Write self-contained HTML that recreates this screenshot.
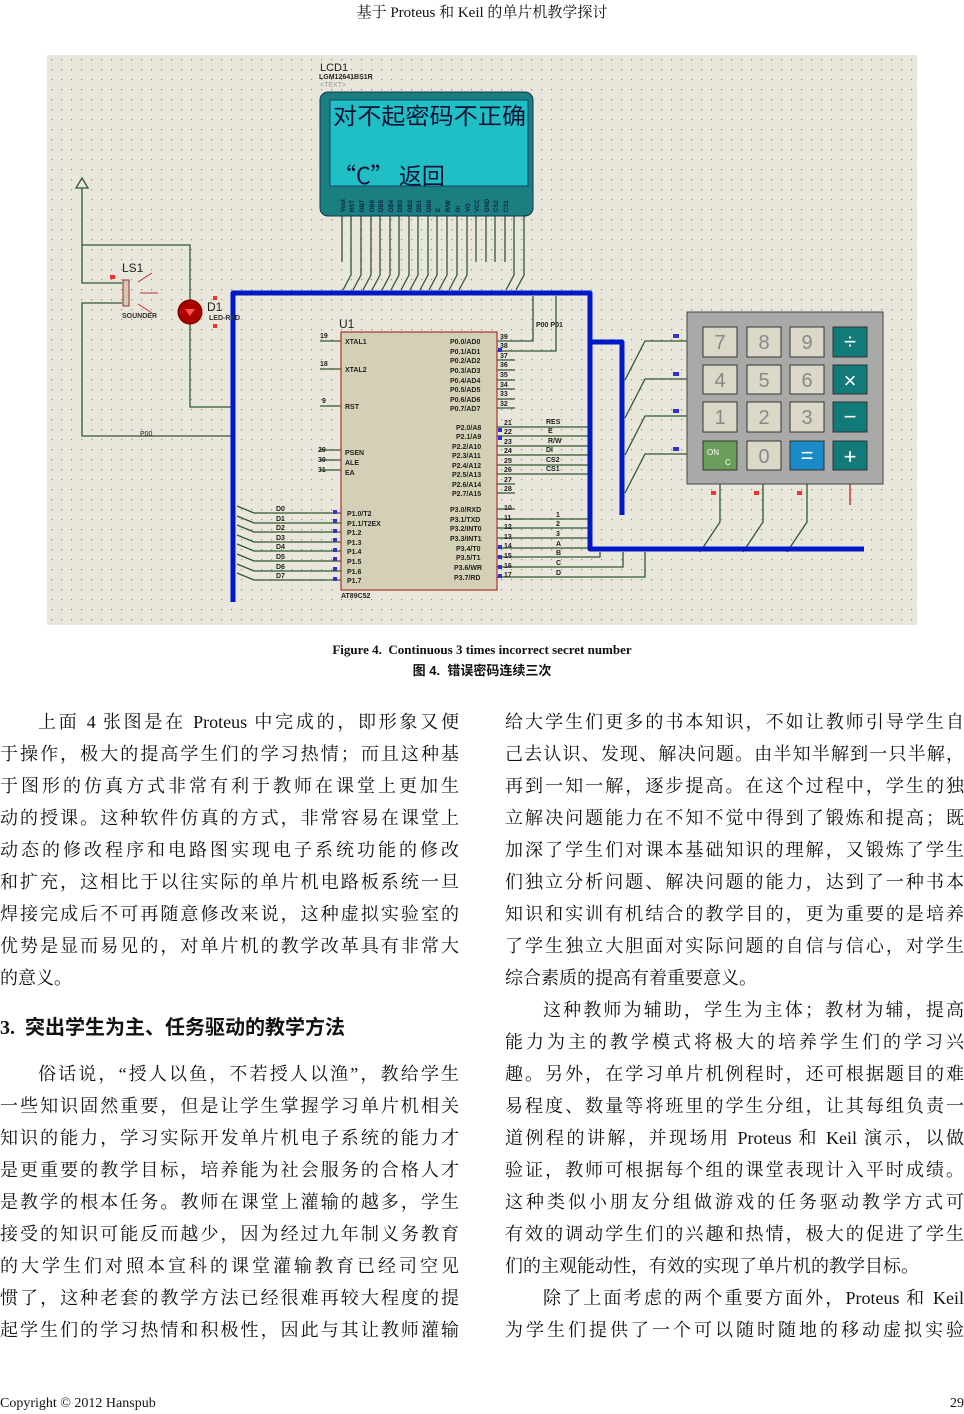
<!DOCTYPE html>
<html><head><meta charset="utf-8">
<style>
body{margin:0;width:964px;height:1414px;position:relative;background:#fff;overflow:hidden;font-family:"Liberation Serif","Noto Serif CJK SC",serif;color:#111}
.l{position:absolute;font-size:18px;height:24px;line-height:24px;white-space:nowrap;text-align:justify;text-align-last:justify}
.e{text-align-last:left}
.L{left:0;width:459px}.R{left:505px;width:459px}
.Li{left:38px;width:421px}.Ri{left:543px;width:421px}
svg text{font-family:"Liberation Sans",sans-serif}
</style></head><body>
<div style="position:absolute;top:1px;left:0;width:964px;text-align:center;font-size:15px">基于 Proteus 和 Keil 的单片机教学探讨</div>

<svg style="position:absolute;left:0;top:0" width="964" height="640">
<defs><pattern id="g" x="47" y="55" width="10" height="10" patternUnits="userSpaceOnUse"><rect x="4" y="4" width="1.2" height="1.2" fill="#8a8a80"/></pattern></defs>
<rect x="47" y="55" width="870" height="570" fill="#e9e6db"/>
<rect x="47" y="55" width="870" height="570" fill="url(#g)"/>
<g stroke="#2f5a2f" stroke-width="1.3" fill="none">
<path d="M82 188V245H190V302"/><path d="M82 245V283H122"/><path d="M122 303H82V436H233"/><path d="M190 322V407H233"/>
<path d="M342 216V262M351 216V275L343 290M361 216V275L353 290M371 216V275L363 290M380 216V275L372 290M390 216V275L382 290M399 216V275L391 290M409 216V275L401 290M418 216V275L410 290M428 216V275L420 290M437 216V275L429 290M447 216V275L439 290M457 216V275L449 290M467 216V275L459 290M476 216V262M486 216V262M495 216V262M505 216V262M514 216V275L506 290M524 216V275L516 290"/>
<path d="M254 513H341M254 523H341M254 532H341M254 542H341M254 551H341M254 561H341M254 571H341M254 580H341"/>
<path d="M237 506L254 513M237 516L254 523M237 525L254 532M237 535L254 542M237 544L254 551M237 554L254 561M237 564L254 571M237 573L254 580"/>
<path d="M320 341H341M320 369H341M320 406H341M320 450H341M320 460H341M320 470H341"/>
<path d="M497 341H533V296M497 351H556V296"/>
<path d="M497 360H515M497 370H515M497 380H515M497 389H515M497 399H515M497 408H515"/>
<path d="M497 427H590M497 436H590M497 446H590M497 455H590M497 465H590M497 474H590M497 484H515M497 493H515"/>
<path d="M497 509H515M497 519H590M497 528H590M497 538H590M497 548H590M497 557H600V552M497 567H623V552M497 577H645V552"/>
<path d="M687 341H645L625 380M687 379H645L625 418M687 416H645L625 455M687 454H645L625 493"/>
<path d="M720 484V522L700 552M763 484V522L743 552M807 484V522L787 552"/>
</g>
<path d="M850 484V505" stroke="#b22" stroke-width="1.3"/>
<path d="M76 188L82 178L88 188Z" fill="none" stroke="#2f5a2f" stroke-width="1.3"/>
<path d="M233 602V293H590V549H864M590 342H622V515" fill="none" stroke="#0018c8" stroke-width="5" stroke-linejoin="round"/>
<text x="320" y="71" font-size="11" fill="#222">LCD1</text>
<text x="319" y="79" font-size="7" fill="#222" font-weight="bold">LGM12641BS1R</text>
<text x="320" y="87" font-size="7" fill="#999">&lt;TEXT&gt;</text>
<rect x="320" y="92" width="213" height="124" rx="8" fill="#1b7f80" stroke="#135"/>
<rect x="330" y="100" width="198" height="86" fill="#20bfc6" stroke="#146"/>
<text x="333" y="124" font-size="23" textLength="193" lengthAdjust="spacingAndGlyphs" fill="#113" style="font-family:'Noto Sans CJK SC',sans-serif">对不起密码不正确</text>
<text x="333" y="184" font-size="23" fill="#113" style="font-family:'Noto Sans CJK SC',sans-serif">“C” 返回</text>
<g font-size="6" fill="#124" font-weight="bold">
<text transform="translate(345,212) rotate(-90)">Vout</text><text transform="translate(354,212) rotate(-90)">RST</text><text transform="translate(364,212) rotate(-90)">DB7</text><text transform="translate(374,212) rotate(-90)">DB6</text><text transform="translate(383,212) rotate(-90)">DB5</text><text transform="translate(393,212) rotate(-90)">DB4</text><text transform="translate(402,212) rotate(-90)">DB3</text><text transform="translate(412,212) rotate(-90)">DB2</text><text transform="translate(421,212) rotate(-90)">DB1</text><text transform="translate(431,212) rotate(-90)">DB0</text><text transform="translate(440,212) rotate(-90)">E</text><text transform="translate(450,212) rotate(-90)">R/W</text><text transform="translate(460,212) rotate(-90)">DI</text><text transform="translate(470,212) rotate(-90)">VO</text><text transform="translate(479,212) rotate(-90)">VCC</text><text transform="translate(489,212) rotate(-90)">GND</text><text transform="translate(498,212) rotate(-90)">CS2</text><text transform="translate(508,212) rotate(-90)">CS1</text>
</g>
<text x="122" y="272" font-size="12" fill="#222">LS1</text>
<rect x="123" y="280" width="6" height="26" fill="#d8c8b0" stroke="#833"/>
<path d="M138 282L152 273M140 293H158M138 304L152 313" stroke="#b33" stroke-width="1"/>
<text x="122" y="318" font-size="7" fill="#333" font-weight="bold">SOUNDER</text>
<circle cx="190" cy="312" r="12" fill="#a00" stroke="#700"/>
<path d="M185 309H195L190 316Z" fill="#f55"/>
<text x="207" y="311" font-size="12" fill="#222">D1</text>
<text x="209" y="320" font-size="7" fill="#333" font-weight="bold">LED-RED</text>
<text x="140" y="436" font-size="7" fill="#222">P00</text>
<text x="339" y="328" font-size="12" fill="#222">U1</text>
<rect x="341" y="332" width="156" height="258" fill="#d3d0b6" stroke="#a33" stroke-width="1.2"/>
<g font-size="7" fill="#222" font-weight="bold">
<text x="345" y="344">XTAL1</text><text x="345" y="372">XTAL2</text><text x="345" y="409">RST</text>
<text x="345" y="455">PSEN</text><text x="345" y="465">ALE</text><text x="345" y="475">EA</text>
<text x="347" y="516">P1.0/T2</text><text x="347" y="526">P1.1/T2EX</text><text x="347" y="535">P1.2</text><text x="347" y="545">P1.3</text><text x="347" y="554">P1.4</text><text x="347" y="564">P1.5</text><text x="347" y="574">P1.6</text><text x="347" y="583">P1.7</text>
<text x="450" y="344">P0.0/AD0</text><text x="450" y="354">P0.1/AD1</text><text x="450" y="363">P0.2/AD2</text><text x="450" y="373">P0.3/AD3</text><text x="450" y="383">P0.4/AD4</text><text x="450" y="392">P0.5/AD5</text><text x="450" y="402">P0.6/AD6</text><text x="450" y="411">P0.7/AD7</text>
<text x="456" y="430">P2.0/A8</text><text x="456" y="439">P2.1/A9</text><text x="452" y="449">P2.2/A10</text><text x="452" y="458">P2.3/A11</text><text x="452" y="468">P2.4/A12</text><text x="452" y="477">P2.5/A13</text><text x="452" y="487">P2.6/A14</text><text x="452" y="496">P2.7/A15</text>
<text x="450" y="512">P3.0/RXD</text><text x="450" y="522">P3.1/TXD</text><text x="450" y="531">P3.2/INT0</text><text x="450" y="541">P3.3/INT1</text><text x="456" y="551">P3.4/T0</text><text x="456" y="560">P3.5/T1</text><text x="454" y="570">P3.6/WR</text><text x="454" y="580">P3.7/RD</text>
<text x="341" y="598">AT89C52</text>
<text x="276" y="511">D0</text><text x="276" y="521">D1</text><text x="276" y="530">D2</text><text x="276" y="540">D3</text><text x="276" y="549">D4</text><text x="276" y="559">D5</text><text x="276" y="569">D6</text><text x="276" y="578">D7</text>
<text x="546" y="424">RES</text><text x="548" y="433">E</text><text x="548" y="443">R/W</text><text x="546" y="452">DI</text><text x="546" y="462">CS2</text><text x="546" y="471">CS1</text>
<text x="556" y="517">1</text><text x="556" y="526">2</text><text x="556" y="536">3</text><text x="556" y="546">A</text><text x="556" y="555">B</text><text x="556" y="565">C</text><text x="556" y="575">D</text>
<text x="536" y="327">P00  P01</text>
<text x="320" y="338">19</text><text x="320" y="366">18</text><text x="322" y="403">9</text><text x="318" y="452">29</text><text x="318" y="462">30</text><text x="318" y="472">31</text>
<text x="500" y="339">39</text><text x="500" y="348">38</text><text x="500" y="358">37</text><text x="500" y="367">36</text><text x="500" y="377">35</text><text x="500" y="387">34</text><text x="500" y="396">33</text><text x="500" y="406">32</text>
<text x="504" y="425">21</text><text x="504" y="434">22</text><text x="504" y="444">23</text><text x="504" y="453">24</text><text x="504" y="463">25</text><text x="504" y="472">26</text><text x="504" y="482">27</text><text x="504" y="491">28</text>
<text x="504" y="510">10</text><text x="504" y="520">11</text><text x="504" y="529">12</text><text x="504" y="539">13</text><text x="504" y="548">14</text><text x="504" y="558">15</text><text x="504" y="568">16</text><text x="504" y="577">17</text>
<text x="693" y="344">A</text><text x="693" y="382">B</text><text x="693" y="419">C</text><text x="693" y="457">D</text>
</g>
<g fill="#33c"><rect x="498" y="348" width="4" height="4"/><rect x="498" y="428" width="4" height="4"/><rect x="498" y="436" width="4" height="4"/><rect x="498" y="545" width="4" height="4"/><rect x="498" y="555" width="4" height="4"/><rect x="498" y="565" width="4" height="4"/><rect x="498" y="574" width="4" height="4"/>
<rect x="673" y="334" width="6" height="4"/><rect x="673" y="372" width="6" height="4"/><rect x="673" y="409" width="6" height="4"/><rect x="673" y="447" width="6" height="4"/>
<rect x="333" y="510" width="4" height="4"/><rect x="333" y="519" width="4" height="4"/><rect x="333" y="529" width="4" height="4"/><rect x="333" y="538" width="4" height="4"/><rect x="333" y="548" width="4" height="4"/><rect x="333" y="557" width="4" height="4"/><rect x="333" y="567" width="4" height="4"/><rect x="333" y="577" width="4" height="4"/></g>
<g fill="#e33"><rect x="711" y="491" width="5" height="4"/><rect x="754" y="491" width="5" height="4"/><rect x="797" y="491" width="5" height="4"/><rect x="213" y="296" width="4" height="4"/><rect x="213" y="324" width="4" height="4"/><rect x="110" y="275" width="5" height="4"/></g>
<rect x="687" y="312" width="196" height="172" fill="#a9aaa8" stroke="#444"/>
<g stroke="#333" stroke-width="1">
<rect x="703" y="327" width="34" height="30" fill="#dcd8c8"/><rect x="747" y="327" width="34" height="30" fill="#dcd8c8"/><rect x="790" y="327" width="34" height="30" fill="#dcd8c8"/><rect x="833" y="327" width="34" height="30" fill="#137a7a"/>
<rect x="703" y="365" width="34" height="29" fill="#dcd8c8"/><rect x="747" y="365" width="34" height="29" fill="#dcd8c8"/><rect x="790" y="365" width="34" height="29" fill="#dcd8c8"/><rect x="833" y="365" width="34" height="29" fill="#137a7a"/>
<rect x="703" y="402" width="34" height="30" fill="#dcd8c8"/><rect x="747" y="402" width="34" height="30" fill="#dcd8c8"/><rect x="790" y="402" width="34" height="30" fill="#dcd8c8"/><rect x="833" y="402" width="34" height="30" fill="#137a7a"/>
<rect x="703" y="441" width="34" height="29" fill="#6a9e5a"/><rect x="747" y="441" width="34" height="29" fill="#dcd8c8"/><rect x="790" y="441" width="34" height="29" fill="#1a8ac8"/><rect x="833" y="441" width="34" height="29" fill="#137a7a"/>
</g>
<g font-size="20" fill="#888" text-anchor="middle">
<text x="720" y="349">7</text><text x="764" y="349">8</text><text x="807" y="349">9</text>
<text x="720" y="387">4</text><text x="764" y="387">5</text><text x="807" y="387">6</text>
<text x="720" y="424">1</text><text x="764" y="424">2</text><text x="807" y="424">3</text>
<text x="764" y="463">0</text></g>
<g fill="#fff" font-size="22" text-anchor="middle"><text x="850" y="349">÷</text><text x="850" y="388">×</text><text x="850" y="424">−</text><text x="850" y="464">+</text><text x="807" y="463">=</text></g>
<text x="707" y="455" font-size="8" fill="#fff">ON</text><text x="725" y="465" font-size="8" fill="#fff">C</text>
</svg>

<div style="position:absolute;top:642px;left:0;width:964px;text-align:center;font-size:13px;font-weight:bold">Figure 4.&nbsp; Continuous 3 times incorrect secret number</div>
<div style="position:absolute;top:660px;left:0;width:964px;text-align:center;font-size:13px;font-weight:bold;font-family:'Liberation Sans','Noto Sans CJK SC',sans-serif">图 4.&nbsp; 错误密码连续三次</div>

<div class="l Li" style="top:710px">上面 4 张图是在 Proteus 中完成的，即形象又便</div>
<div class="l L" style="top:742px">于操作，极大的提高学生们的学习热情；而且这种基</div>
<div class="l L" style="top:774px">于图形的仿真方式非常有利于教师在课堂上更加生</div>
<div class="l L" style="top:806px">动的授课。这种软件仿真的方式，非常容易在课堂上</div>
<div class="l L" style="top:838px">动态的修改程序和电路图实现电子系统功能的修改</div>
<div class="l L" style="top:870px">和扩充，这相比于以往实际的单片机电路板系统一旦</div>
<div class="l L" style="top:902px">焊接完成后不可再随意修改来说，这种虚拟实验室的</div>
<div class="l L" style="top:934px">优势是显而易见的，对单片机的教学改革具有非常大</div>
<div class="l L e" style="top:966px">的意义。</div>
<div style="position:absolute;top:1011px;left:0;font-size:20px;font-weight:bold;font-family:'Liberation Serif','Noto Sans CJK SC',sans-serif;white-space:nowrap">3.&nbsp; 突出学生为主、任务驱动的教学方法</div>
<div class="l Li" style="top:1062px">俗话说，“授人以鱼，不若授人以渔”，教给学生</div>
<div class="l L" style="top:1094px">一些知识固然重要，但是让学生掌握学习单片机相关</div>
<div class="l L" style="top:1126px">知识的能力，学习实际开发单片机电子系统的能力才</div>
<div class="l L" style="top:1158px">是更重要的教学目标，培养能为社会服务的合格人才</div>
<div class="l L" style="top:1190px">是教学的根本任务。教师在课堂上灌输的越多，学生</div>
<div class="l L" style="top:1222px">接受的知识可能反而越少，因为经过九年制义务教育</div>
<div class="l L" style="top:1254px">的大学生们对照本宣科的课堂灌输教育已经司空见</div>
<div class="l L" style="top:1286px">惯了，这种老套的教学方法已经很难再较大程度的提</div>
<div class="l L" style="top:1318px">起学生们的学习热情和积极性，因此与其让教师灌输</div>

<div class="l R" style="top:710px">给大学生们更多的书本知识，不如让教师引导学生自</div>
<div class="l R" style="top:742px">己去认识、发现、解决问题。由半知半解到一只半解，</div>
<div class="l R" style="top:774px">再到一知一解，逐步提高。在这个过程中，学生的独</div>
<div class="l R" style="top:806px">立解决问题能力在不知不觉中得到了锻炼和提高；既</div>
<div class="l R" style="top:838px">加深了学生们对课本基础知识的理解，又锻炼了学生</div>
<div class="l R" style="top:870px">们独立分析问题、解决问题的能力，达到了一种书本</div>
<div class="l R" style="top:902px">知识和实训有机结合的教学目的，更为重要的是培养</div>
<div class="l R" style="top:934px">了学生独立大胆面对实际问题的自信与信心，对学生</div>
<div class="l R e" style="top:966px">综合素质的提高有着重要意义。</div>
<div class="l Ri" style="top:998px">这种教师为辅助，学生为主体；教材为辅，提高</div>
<div class="l R" style="top:1030px">能力为主的教学模式将极大的培养学生们的学习兴</div>
<div class="l R" style="top:1062px">趣。另外，在学习单片机例程时，还可根据题目的难</div>
<div class="l R" style="top:1094px">易程度、数量等将班里的学生分组，让其每组负责一</div>
<div class="l R" style="top:1126px">道例程的讲解，并现场用 Proteus 和 Keil 演示，以做</div>
<div class="l R" style="top:1158px">验证，教师可根据每个组的课堂表现计入平时成绩。</div>
<div class="l R" style="top:1190px">这种类似小朋友分组做游戏的任务驱动教学方式可</div>
<div class="l R" style="top:1222px">有效的调动学生们的兴趣和热情，极大的促进了学生</div>
<div class="l R e" style="top:1254px">们的主观能动性，有效的实现了单片机的教学目标。</div>
<div class="l Ri" style="top:1286px">除了上面考虑的两个重要方面外，Proteus 和 Keil</div>
<div class="l R" style="top:1318px">为学生们提供了一个可以随时随地的移动虚拟实验</div>

<div style="position:absolute;top:1396px;left:0;font-size:14px">Copyright © 2012 Hanspub</div>
<div style="position:absolute;top:1396px;right:0;font-size:14px">29</div>
</body></html>
